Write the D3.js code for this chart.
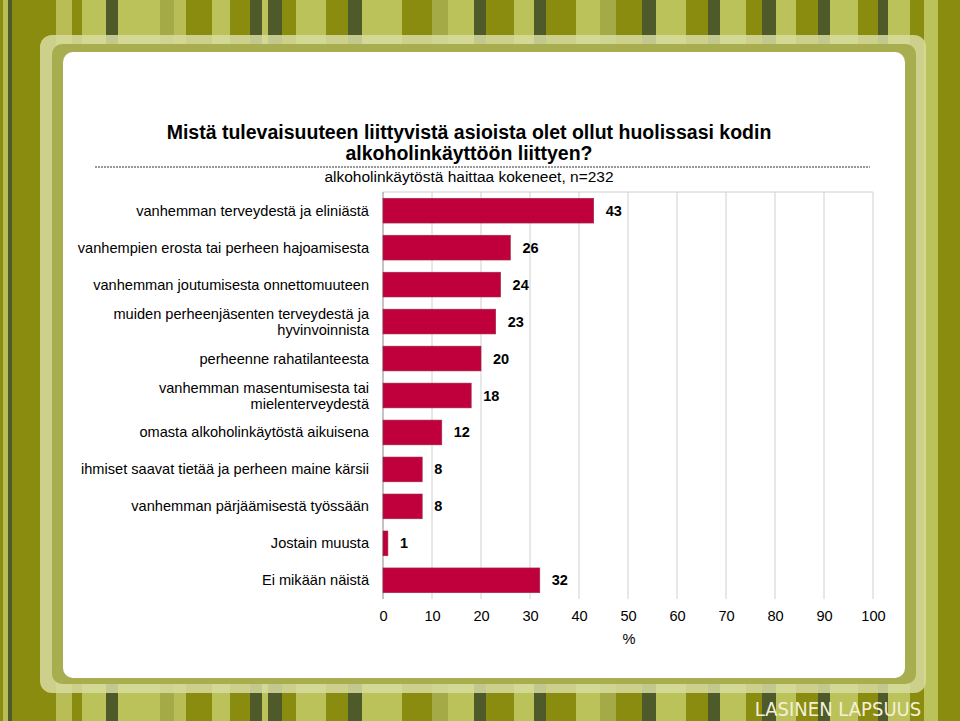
<!DOCTYPE html>
<html><head><meta charset="utf-8">
<script src="https://cdn.jsdelivr.net/npm/d3@7"></script>
<style>body{margin:0;overflow:hidden}svg{display:block}</style>
</head><body>
<svg id="chart" width="960" height="721"></svg>
<script>
const categories = [
  "vanhemman terveydestä ja eliniästä",
  "vanhempien erosta tai perheen hajoamisesta",
  "vanhemman joutumisesta onnettomuuteen",
  "muiden perheenjäsenten terveydestä ja|hyvinvoinnista",
  "perheenne rahatilanteesta",
  "vanhemman masentumisesta tai|mielenterveydestä",
  "omasta alkoholinkäytöstä aikuisena",
  "ihmiset saavat tietää ja perheen maine kärsii",
  "vanhemman pärjäämisestä työssään",
  "Jostain muusta",
  "Ei mikään näistä"
];
const values = [43, 26, 24, 23, 20, 18, 12, 8, 8, 1, 32];
const xTicks = [0, 10, 20, 30, 40, 50, 60, 70, 80, 90, 100];

// background stripes: [x, width, colour]
const stripes = [
  [0,3,"#8a8c10"],[3,5,"#b8be55"],[8,4,"#4e5a2a"],[12,44,"#8a8c10"],[56,16,"#b8be55"],
  [72,10,"#8a8c10"],[82,24,"#bcc25a"],[106,12,"#4e5a2a"],[118,42,"#bcc25a"],[160,14,"#a4aa45"],
  [174,12,"#b8be55"],[186,26,"#8a8c10"],[212,18,"#bcc25a"],[230,20,"#8a8c10"],[250,12,"#4e5a2a"],
  [262,6,"#bcc25a"],[268,14,"#4e5a2a"],[282,14,"#8a8c10"],[296,30,"#bcc25a"],[326,22,"#8a8c10"],
  [348,14,"#4e5a2a"],[362,40,"#bcc25a"],[402,30,"#8a8c10"],[432,16,"#a4aa45"],[448,26,"#bcc25a"],
  [474,12,"#4e5a2a"],[486,28,"#8a8c10"],[514,20,"#bcc25a"],[534,12,"#4e5a2a"],[546,30,"#8a8c10"],
  [576,24,"#bcc25a"],[600,16,"#a4aa45"],[616,26,"#8a8c10"],[642,14,"#4e5a2a"],[656,30,"#bcc25a"],
  [686,22,"#8a8c10"],[708,12,"#4e5a2a"],[720,26,"#bcc25a"],[746,16,"#8a8c10"],[762,14,"#4e5a2a"],
  [776,20,"#bcc25a"],[796,22,"#8a8c10"],[818,12,"#4e5a2a"],[830,28,"#bcc25a"],[858,20,"#8a8c10"],
  [878,10,"#4e5a2a"],[888,22,"#bcc25a"],[910,14,"#8a8c10"],[924,14,"#bcc25a"],[938,22,"#8a8c10"]
];

const svg = d3.select("#chart");
svg.selectAll(".stripe").data(stripes).enter().append("rect")
  .attr("x", d => d[0]).attr("y", 0).attr("width", d => d[1]).attr("height", 721)
  .attr("fill", d => d[2]);

// frame
svg.append("rect").attr("x", 40).attr("y", 35).attr("width", 886).attr("height", 658)
  .attr("rx", 12).attr("fill", "#d8dca0").attr("opacity", 0.85);
svg.append("rect").attr("x", 52).attr("y", 44).attr("width", 864).attr("height", 640)
  .attr("rx", 10).attr("fill", "#a8ae50");
svg.append("rect").attr("x", 63).attr("y", 52).attr("width", 842).attr("height", 626)
  .attr("rx", 10).attr("fill", "#fff");

svg.append("text").attr("x", 838).attr("y", 716).attr("text-anchor", "middle")
  .style("font", "20px 'DejaVu Sans Condensed', 'DejaVu Sans'").style("fill", "#f4f0d8")
  .text("LASINEN LAPSUUS");

// titles
const font = "Liberation Sans, Arial, sans-serif";
svg.append("text").attr("x", 469).attr("y", 139).attr("text-anchor", "middle")
  .style("font", `bold 19.5px ${font}`).text("Mistä tulevaisuuteen liittyvistä asioista olet ollut huolissasi kodin");
svg.append("text").attr("x", 469).attr("y", 160).attr("text-anchor", "middle")
  .style("font", `bold 19.5px ${font}`).text("alkoholinkäyttöön liittyen?");
svg.append("line").attr("x1", 95).attr("x2", 870).attr("y1", 167).attr("y2", 167)
  .attr("stroke", "#999").attr("stroke-width", 2).attr("stroke-dasharray", "2 1");
svg.append("text").attr("x", 469).attr("y", 182).attr("text-anchor", "middle")
  .style("font", `15.5px ${font}`).text("alkoholinkäytöstä haittaa kokeneet, n=232");

const x = d3.scaleLinear().domain([0, 100]).range([383, 873]);
const y = d3.scaleBand().domain(categories).range([192, 599]).paddingInner(0.33).paddingOuter(0.17);

const g = svg.append("g");
g.selectAll(".grid").data(xTicks.slice(1)).enter().append("line")
  .attr("x1", d => x(d)).attr("x2", d => x(d)).attr("y1", 192).attr("y2", 599)
  .attr("stroke", "#d0d0d0");
g.append("line").attr("x1", x(0)).attr("x2", x(100)).attr("y1", 192).attr("y2", 192).attr("stroke", "#d0d0d0");
g.append("line").attr("x1", x(0)).attr("x2", x(0)).attr("y1", 192).attr("y2", 599).attr("stroke", "#888");

g.selectAll(".bar").data(values).enter().append("rect")
  .attr("x", x(0)).attr("y", (d, i) => y(categories[i]))
  .attr("width", d => x(d) - x(0)).attr("height", y.bandwidth())
  .attr("fill", "#c0003c").attr("stroke", "#9a2a48").attr("stroke-width", 0.6);

g.selectAll(".val").data(values).enter().append("text")
  .attr("x", d => x(d) + 12).attr("y", (d, i) => y(categories[i]) + y.bandwidth() / 2 + 5)
  .style("font", `bold 14.5px ${font}`).text(d => d);

categories.forEach(c => {
  const lines = c.split("|");
  const cy = y(c) + y.bandwidth() / 2;
  lines.forEach((l, j) => {
    g.append("text").attr("x", 369).attr("y", cy + 5 + (j - (lines.length - 1) / 2) * 16)
      .attr("text-anchor", "end").style("font", `14.6px ${font}`).text(l);
  });
});

g.append("g").attr("transform", "translate(0,599)")
  .call(d3.axisBottom(x).tickValues(xTicks).tickSize(0).tickPadding(12))
  .call(a => a.select(".domain").remove())
  .selectAll("text").style("font", `14.6px ${font}`).attr("fill", "#000");
svg.append("text").attr("x", 629).attr("y", 644).attr("text-anchor", "middle")
  .style("font", `14.6px ${font}`).text("%");
</script>
</body></html>
